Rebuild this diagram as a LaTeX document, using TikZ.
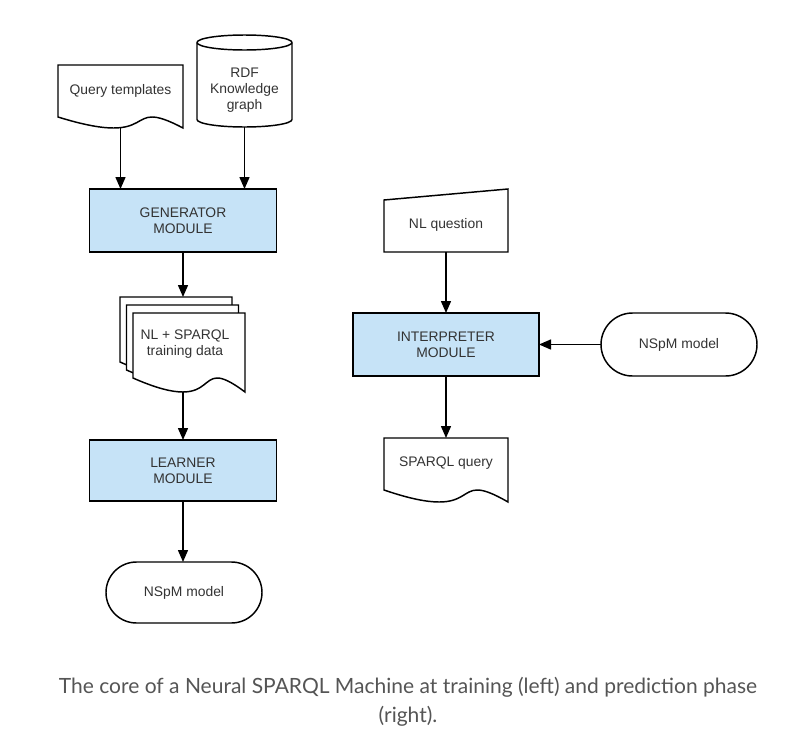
\documentclass[tikz,border=0pt]{standalone}
\usepackage{fontspec}
\setmainfont{Liberation Sans}
\newfontfamily\capfont{Lato}
\usetikzlibrary{arrows.meta,calc,shapes.misc}
\definecolor{boxblue}{HTML}{C6E3F7}
\definecolor{txt}{HTML}{333333}
\definecolor{capgray}{HTML}{555555}
% document shape: node name, width (px), left rise (px)
\newcommand\docshape[3]{%
  \draw[shapeline,fill=white] (#1.north west) -- (#1.north east) -- (#1.south east)
    .. controls ($(#1.south west)+({0.5*#2},{-3*#3})$) and ($(#1.south west)+({0.85*#2},{2*#3})$) ..
    ($(#1.south west)+(0,{-#3})$) -- cycle;}
\begin{document}
\begin{tikzpicture}[x=0.75pt,y=-0.75pt,
  shapeline/.style={draw=black,line width=1.1pt},
  lbl/.style={text=txt,font=\fontsize{10.4}{12}\selectfont,align=center,inner sep=0pt},
  hold/.style={rectangle,draw=none,inner sep=0pt,outer sep=0pt},
  module/.style={rectangle,shapeline,line width=1.3pt,fill=boxblue,outer sep=0pt,lbl,minimum width=140.25pt,minimum height=47.25pt},
  term/.style={rounded rectangle,shapeline,fill=white,outer sep=0pt,lbl,minimum width=117pt},
  arr/.style={line width=1.1pt,-{Triangle[length=9pt,width=7.5pt]}},
  capstyle/.style={font=\capfont\fontsize{15.75}{20}\selectfont,text=capgray,inner sep=0pt}]
\fill[white] (0,0) rectangle (794,736);
\useasboundingbox (0,0) rectangle (794,736);

% ---- left column (training) ----
\node[hold,minimum width=93.75pt,minimum height=47.25pt] (qt) at (120.5,96.5) {};
\docshape{qt}{125}{11}
\node[lbl] (qtT) at ($(qt)+(0,-5.5)$) {Query templates};

\node[hold,minimum width=71.25pt,minimum height=69pt] (rdf) at (244.5,81) {};
\draw[shapeline,fill=white] ([yshift=-5.625pt]rdf.north west) -- ([yshift=5.625pt]rdf.south west)
  arc[start angle=180,end angle=360,x radius=35.625pt,y radius=5.625pt]
  -- ([yshift=-5.625pt]rdf.north east)
  arc[start angle=0,end angle=180,x radius=35.625pt,y radius=5.625pt] -- cycle;
\draw[shapeline] ([yshift=-5.625pt]rdf.north west) arc[start angle=180,end angle=360,x radius=35.625pt,y radius=5.625pt];
\node[lbl] (rdfT) at ($(rdf)+(0,9)$) {RDF\\Knowledge\\graph};

\node[module] (gen) at (183,220.5) {GENERATOR\\MODULE};

\node[hold,minimum width=84pt,minimum height=59.25pt] (td3) at (176,336.5) {};
\node[hold,minimum width=84pt,minimum height=59.25pt] (td2) at (182.5,344.5) {};
\node[hold,minimum width=84pt,minimum height=59.25pt] (td) at (189,352.5) {};
\docshape{td3}{112}{14}
\docshape{td2}{112}{14}
\docshape{td}{112}{14}
\node[lbl] (tdT) at ($(td)+(-4,-8.5)$) {NL + SPARQL\\training data};

\node[module,minimum height=45.75pt] (lrn) at (183,470.5) {LEARNER\\MODULE};

\node[term,minimum height=45.75pt] (nsl) at (184,592.5) {NSpM model};

% ---- right column (prediction) ----
\node[hold,minimum width=93pt,minimum height=47.25pt] (nlq) at (446,220.5) {};
\draw[shapeline,fill=white] (nlq.south west) -- ($(nlq.north west)+(0,11)$) -- (nlq.north east) -- (nlq.south east) -- cycle;
\node[lbl] (nlqT) at ($(nlq)+(0,4.5)$) {NL question};

\node[module,minimum width=139.5pt] (itp) at (446,344.5) {INTERPRETER\\MODULE};

\node[term,minimum height=47.25pt] (nsr) at (679,344.5) {NSpM model};

\node[hold,minimum width=93pt,minimum height=48pt] (sq) at (446,470) {};
\docshape{sq}{124}{12}
\node[lbl] (sqT) at ($(sq)+(0,-7)$) {SPARQL query};

% ---- connectors ----
\draw[arr] (qt.south) -- (qt.south |- gen.north);
\draw[arr] (rdf.south) -- (rdf.south |- gen.north);
\draw[arr] (gen.south) -- (gen.south |- td3.north);
\draw[arr] (td.south -| lrn.north) -- (lrn.north);
\draw[arr] (lrn.south) -- (lrn.south |- nsl.north);
\draw[arr] (nlq.south) -- (itp.north);
\draw[arr] (nsr.west) -- (itp.east);
\draw[arr] (itp.south) -- (sq.north);

% ---- caption ----
\node[capstyle,anchor=base] (cap1) at (408,693) {The core of a Neural SPARQL Machine at training (left) and prediction phase};
\node[capstyle,anchor=base] (cap2) at (408,722) {(right).};
\end{tikzpicture}
\end{document}
